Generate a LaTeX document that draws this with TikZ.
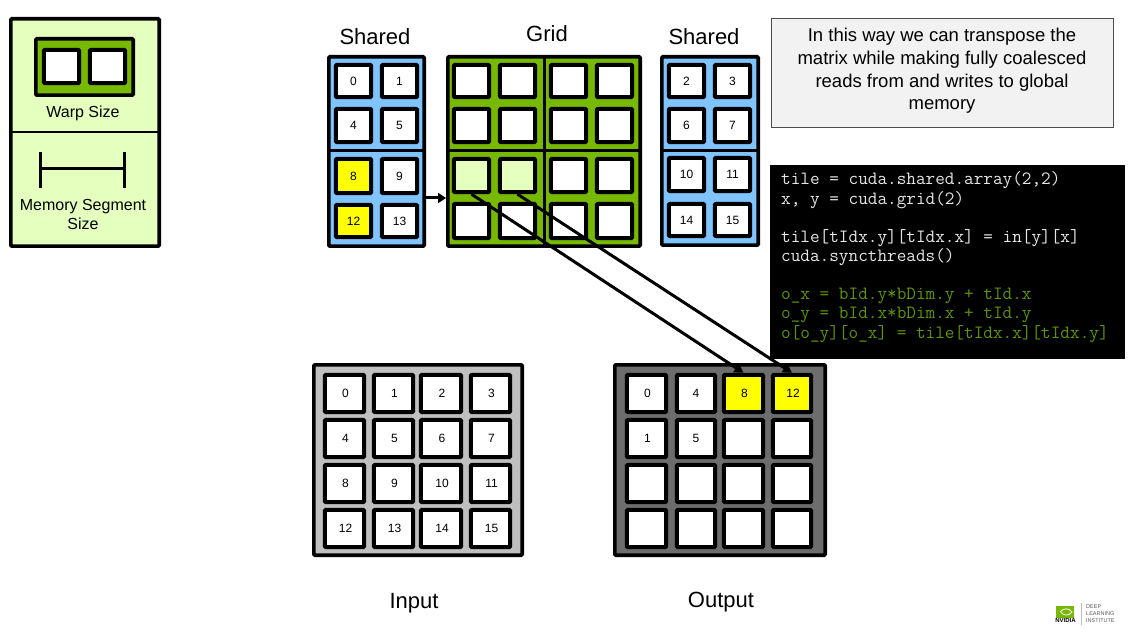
\documentclass[tikz,border=0pt]{standalone}
\usepackage{fontspec}
\setmainfont{Liberation Sans}
\usetikzlibrary{arrows.meta}
\definecolor{nvgreen}{HTML}{76B900}
\definecolor{lightgreen}{HTML}{E4FFBE}
\definecolor{skyblue}{HTML}{80C4FF}
\definecolor{midgray}{HTML}{BFBFBF}
\definecolor{darkgray}{HTML}{6D6D6D}
\definecolor{codegreen}{HTML}{5E9400}
\definecolor{codewhite}{HTML}{E6E6E6}
\definecolor{cellyellow}{RGB}{255,255,0}
\newcommand{\fs}[1]{\fontsize{#1}{#1}\selectfont}
% \bx{name}{x0}{y0}{x1}{y1}{style}{text}: outer extents in pixels
\newcommand{\bx}[7]{%
  \pgfmathsetmacro{\bxw}{#4-#2-\bxlw}%
  \pgfmathsetmacro{\bxh}{#5-#3-\bxlw}%
  \pgfmathsetmacro{\bxx}{(#2+#4)/2}%
  \pgfmathsetmacro{\bxy}{(#3+#5)/2}%
  \node[#6,minimum width=\bxw pt,minimum height=\bxh pt] (#1) at (\bxx,\bxy) {#7};}
\def\bxlw{3.6}
\def\nd{\kern2pt}
\tikzset{
  x=1pt,y=-1pt,
  box/.style={draw=black,line width=3.6pt,rounded corners=1pt,inner sep=0pt,font=\fs{12}},
  wcell/.style={box,line width=4pt,fill=white},
  ycell/.style={box,line width=4pt,fill=cellyellow},
  gcell/.style={box,line width=4pt,fill=lightgreen},
  shpanel/.style={box,fill=skyblue},
  grpanel/.style={box,fill=nvgreen},
  inpanel/.style={box,fill=midgray},
  outpanel/.style={box,fill=darkgray},
  legpanel/.style={box,fill=lightgreen},
  divider/.style={draw=black,line width=3pt},
  title/.style={inner sep=0pt,font=\fs{22}},
  legtext/.style={inner sep=0pt,font=\fs{16},align=center},
  flow/.style={draw=black,line width=3pt,-{Triangle[length=9pt,width=10pt]}},
  flowshort/.style={draw=black,line width=3pt,-{Triangle[length=8pt,width=10pt]}},
  code/.style={inner sep=0pt,anchor=west,font=\ttfamily\fs{18.7}},
  logotext/.style={inner sep=0pt,anchor=west,text=black!65,font=\fs{5.5}},
}
\begin{document}
\begin{tikzpicture}
\useasboundingbox (0,0) rectangle (1134,644);
% legend
\bx{leg}{9}{17}{161}{248}{legpanel}{}
\draw[divider,line width=2pt] (leg.west |- 0,132) -- (leg.east |- 0,132);
\bx{lw}{34}{37}{135}{97}{grpanel}{}
\bx{la}{42}{48}{81}{85}{wcell}{}
\bx{lb}{88}{48}{127}{85}{wcell}{}
\node[legtext] (lwt) at (83,113.5) {Warp Size};
\coordinate (segL) at (40,169);
\coordinate (segR) at (124,169);
\draw[line width=3pt] (segL) -- (segR);
\draw[line width=3pt] (40,152) -- (40,188);
\draw[line width=3pt] (124,152) -- (124,188);
\node[legtext] (lst) at (83,214.5) {Memory Segment\\[3pt]Size};
% titles
\node[title] (t1) at (375,37) {Shared};
\node[title] (t2) at (547,33.5) {Grid};
\node[title] (t3) at (704,37) {Shared};
\node[title] (t4) at (414,603.5) {Input};
\node[title] (t5) at (721,602.5) {Output};
% left shared
\bx{sl}{327}{55}{426}{248}{shpanel}{}
\draw[divider] (sl.west |- 0,151) -- (sl.east |- 0,151);
\bx{s0}{334}{63}{373}{99}{wcell}{0}
\bx{s1}{380}{63}{419}{99}{wcell}{1}
\bx{s4}{334}{107}{373}{144}{wcell}{4}
\bx{s5}{380}{107}{419}{144}{wcell}{5}
\bx{s8}{334}{157}{373}{195}{ycell}{8}
\bx{s9}{380}{157}{419}{195}{wcell}{9}
\bx{s12}{334}{203}{373}{239}{ycell}{12}
\bx{s13}{380}{203}{419}{239}{wcell}{13}
% grid
\bx{gr}{446}{55}{642}{248}{grpanel}{}
\draw[divider] (gr.west |- 0,151) -- (gr.east |- 0,151);
\draw[divider] (544,55) -- (544,248);
\bx{g0}{452}{63}{491}{99}{wcell}{}
\bx{g1}{498}{63}{537}{99}{wcell}{}
\bx{g2}{549}{63}{588}{99}{wcell}{}
\bx{g3}{595}{63}{634}{99}{wcell}{}
\bx{g4}{452}{107}{491}{144}{wcell}{}
\bx{g5}{498}{107}{537}{144}{wcell}{}
\bx{g6}{549}{107}{588}{144}{wcell}{}
\bx{g7}{595}{107}{634}{144}{wcell}{}
\bx{g8}{452}{157}{491}{194}{gcell}{}
\bx{g9}{498}{157}{537}{194}{gcell}{}
\bx{g10}{549}{157}{588}{194}{wcell}{}
\bx{g11}{595}{157}{634}{194}{wcell}{}
\bx{g12}{452}{202}{491}{240}{wcell}{}
\bx{g13}{498}{202}{537}{240}{wcell}{}
\bx{g14}{549}{202}{588}{240}{wcell}{}
\bx{g15}{595}{202}{634}{240}{wcell}{}
% right shared
\bx{sr}{660}{55}{760}{247}{shpanel}{}
\draw[divider] (sr.west |- 0,151) -- (sr.east |- 0,151);
\bx{r2}{667}{63}{706}{99}{wcell}{2}
\bx{r3}{713}{63}{752}{99}{wcell}{3}
\bx{r6}{667}{107}{706}{144}{wcell}{6}
\bx{r7}{713}{107}{752}{144}{wcell}{7}
\bx{r10}{667}{156}{706}{193}{wcell}{10}
\bx{r11}{713}{156}{752}{193}{wcell}{11}
\bx{r14}{667}{202}{706}{238}{wcell}{14}
\bx{r15}{713}{202}{752}{238}{wcell}{15}
% input
\bx{ip}{312}{363}{524}{557}{inpanel}{}
\bx{i0}{323}{373}{366}{414}{wcell}{\nd 0}
\bx{i1}{372}{373}{415}{414}{wcell}{\nd 1}
\bx{i2}{419}{373}{463}{414}{wcell}{\nd 2}
\bx{i3}{469}{373}{512}{414}{wcell}{\nd 3}
\bx{i4}{323}{418}{366}{459}{wcell}{\nd 4}
\bx{i5}{372}{418}{415}{459}{wcell}{\nd 5}
\bx{i6}{419}{418}{463}{459}{wcell}{\nd 6}
\bx{i7}{469}{418}{512}{459}{wcell}{\nd 7}
\bx{i8}{323}{463}{366}{504}{wcell}{\nd 8}
\bx{i9}{372}{463}{415}{504}{wcell}{\nd 9}
\bx{i10}{419}{463}{463}{504}{wcell}{\nd 10}
\bx{i11}{469}{463}{512}{504}{wcell}{\nd 11}
\bx{i12}{323}{508}{366}{549}{wcell}{\nd 12}
\bx{i13}{372}{508}{415}{549}{wcell}{\nd 13}
\bx{i14}{419}{508}{463}{549}{wcell}{\nd 14}
\bx{i15}{469}{508}{512}{549}{wcell}{\nd 15}
% output
\bx{op}{613}{363}{827}{557}{outpanel}{}
\bx{o0}{625}{373}{668}{414}{wcell}{\nd 0}
\bx{o1}{675}{373}{717}{414}{wcell}{4}
\bx{o2}{722}{373}{765}{414}{ycell}{\nd 8}
\bx{o3}{771}{373}{813}{414}{ycell}{\nd 12}
\bx{o4}{625}{418}{668}{459}{wcell}{\nd 1}
\bx{o5}{675}{418}{717}{459}{wcell}{5}
\bx{o6}{722}{418}{765}{459}{wcell}{}
\bx{o7}{771}{418}{813}{459}{wcell}{}
\bx{o8}{625}{463}{668}{504}{wcell}{}
\bx{o9}{675}{463}{717}{504}{wcell}{}
\bx{o10}{722}{463}{765}{504}{wcell}{}
\bx{o11}{771}{463}{813}{504}{wcell}{}
\bx{o12}{625}{508}{668}{549}{wcell}{}
\bx{o13}{675}{508}{717}{549}{wcell}{}
\bx{o14}{722}{508}{765}{549}{wcell}{}
\bx{o15}{771}{508}{813}{549}{wcell}{}
% note
\node[draw=black!70,line width=0.8pt,fill=black!5,minimum width=342pt,minimum height=109pt,inner sep=0pt] (note) at (942,72.5) {};
\node[inner sep=0pt,align=center,font=\fs{18.5}] (notetext) at (942,71)
  {In this way we can transpose the\\[4.2pt]matrix while making fully coalesced\\[4.2pt]reads from and writes to global\\[4.2pt]memory};
% code
\node[fill=black,minimum width=355pt,minimum height=194pt,inner sep=0pt] (codebox) at (947.5,262) {};
\foreach \ln/\yy/\col/\txt in {
  c1/180.5/codewhite/{tile = cuda.shared.array(2,2)},
  c2/200/codewhite/{x, y = cuda.grid(2)},
  c3/238/codewhite/{tile[tIdx.y][tIdx.x] = in[y][x]},
  c4/257.5/codewhite/{cuda.syncthreads()},
  c5/296/codegreen/{o\_x = bId.y*bDim.y + tId.x},
  c6/315/codegreen/{o\_y = bId.x*bDim.x + tId.y},
  c7/334/codegreen/{o[o\_y][o\_x] = tile[tIdx.x][tIdx.y]}}
  {\node[code,text=\col] (\ln) at (781,\yy) {\txt};}
% connectors
\draw[flowshort] (sl.east |- 0,198) -- (gr.west |- 0,198);
\draw[flow] (g8.south) -- (o2.north);
\draw[flow] (g9.south) -- (o3.north);
% logo
\fill[nvgreen] (1056,606) rectangle (1074,618);
\draw[white,line width=0.8pt] (1060,612) .. controls (1064,607.5) and (1069,608) .. (1072,612) .. controls (1069,616) and (1064,616) .. (1061,612.5);
\node[inner sep=0pt,font=\bfseries\fs{6}] (lg) at (1065.5,620.5) {NVIDIA};
\draw[black!25,line width=0.8pt] (1081,603) -- (1081,625);
\node[logotext] (l1) at (1086,607) {DEEP};
\node[logotext] (l2) at (1086,614) {LEARNING};
\node[logotext] (l3) at (1086,620.5) {INSTITUTE};
\end{tikzpicture}
\end{document}
